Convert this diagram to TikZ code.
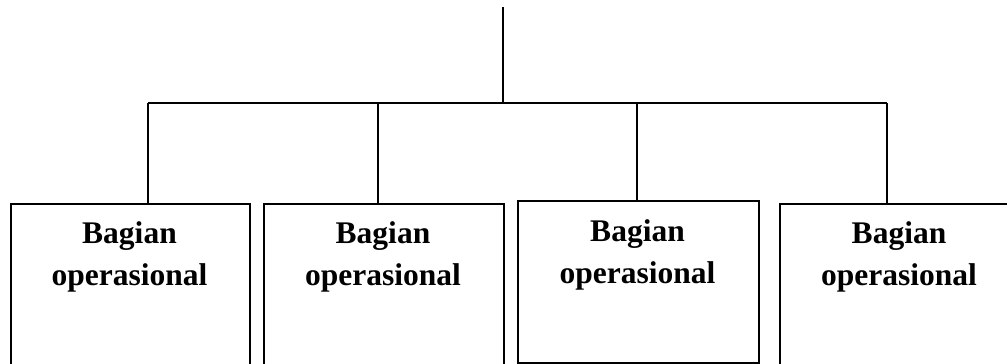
\documentclass[tikz,border=0pt]{standalone}
\usepackage{fontspec}
\setmainfont{Liberation Serif}
\begin{document}
\begin{tikzpicture}[x=1pt, y=-1pt, line width=1.7pt,
    box/.style={draw, rectangle, inner sep=0pt, anchor=north west},
    txt/.style={align=center, inner sep=0pt, anchor=base,
                font=\bfseries\fontsize{31.5}{42}\selectfont}]
    \useasboundingbox (0, 0) rectangle (1007, 364);
    \clip (0, 0) rectangle (1007, 364);
    \node (b1) [box, minimum width=239pt, minimum height=180pt] at (10, 203) {};
    \node (b2) [box, minimum width=240pt, minimum height=180pt] at (263, 203) {};
    \node (b3) [box, minimum width=241pt, minimum height=162pt] at (517, 200) {};
    \node (b4) [box, minimum width=240pt, minimum height=180pt] at (779, 203) {};
    \node (t1) [txt] at (129.5, 285) {Bagian\\operasional};
    \node (t2) [txt] at (383, 285) {Bagian\\operasional};
    \node (t3) [txt] at (637.5, 283) {Bagian\\operasional};
    \node (t4) [txt] at (899, 285) {Bagian\\operasional};
    \coordinate (top) at (503, 7);
    \coordinate (d1) at (148, 103);
    \coordinate (d2) at (378, 103);
    \coordinate (d3) at (637, 103);
    \coordinate (d4) at (887, 103);
    \draw (top) -- (top |- d1)
          (d1) -- (d4);
    \draw (d1) -- (d1 |- b1.north)
          (d2) -- (d2 |- b2.north)
          (d3) -- (d3 |- b3.north)
          (d4) -- (d4 |- b4.north);
\end{tikzpicture}
\end{document}
